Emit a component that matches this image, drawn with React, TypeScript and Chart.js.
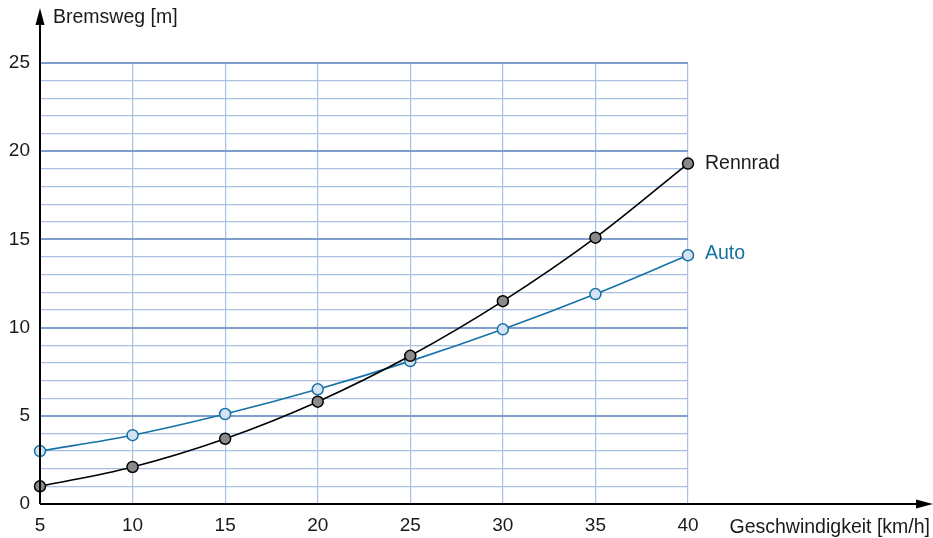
import React, { useEffect, useRef } from "react";
import { Chart, registerables } from "chart.js";

Chart.register(...registerables);

const speeds = [5, 10, 15, 20, 25, 30, 35, 40];
const rennrad = [1.0, 2.1, 3.7, 5.8, 8.4, 11.5, 15.1, 19.3];
const auto = [3.0, 3.9, 5.1, 6.5, 8.1, 9.9, 11.9, 14.1];
const seriesNames = ["Rennrad", "Auto"];
const yTitle = "Bremsweg [m]";
const xTitle = "Geschwindigkeit [km/h]";

const FONT = "'Liberation Sans', Arial, sans-serif";
const FS = 19;
const FT = 19.5;
const BLUE = "#1672a6";

const overlay = {
  id: "overlay",
  afterDraw(chart: any) {
    const { ctx, chartArea, scales } = chart;
    const x0 = chartArea.left;
    const y0 = chartArea.bottom;
    ctx.save();
    ctx.strokeStyle = "#000";
    ctx.fillStyle = "#000";
    ctx.lineWidth = 2;
    // y axis
    ctx.beginPath();
    ctx.moveTo(x0, y0);
    ctx.lineTo(x0, 20);
    ctx.stroke();
    ctx.beginPath();
    ctx.moveTo(x0, 8);
    ctx.lineTo(x0 - 4.5, 25);
    ctx.lineTo(x0 + 4.5, 25);
    ctx.closePath();
    ctx.fill();
    // x axis
    ctx.beginPath();
    ctx.moveTo(x0, y0);
    ctx.lineTo(920, y0);
    ctx.stroke();
    ctx.beginPath();
    ctx.moveTo(933, y0);
    ctx.lineTo(916, y0 - 4.5);
    ctx.lineTo(916, y0 + 4.5);
    ctx.closePath();
    ctx.fill();
    // titles
    ctx.font = `${FT}px ${FONT}`;
    ctx.fillStyle = "#1a1a1a";
    ctx.textBaseline = "middle";
    ctx.textAlign = "left";
    ctx.fillText(yTitle, 53, 18);
    ctx.textAlign = "right";
    ctx.fillText(xTitle, 930, 528);
    // series labels
    ctx.textAlign = "left";
    const lx = scales.x.getPixelForValue(speeds[speeds.length - 1]) + 17;
    ctx.fillStyle = "#1a1a1a";
    ctx.fillText(seriesNames[0], lx, scales.y.getPixelForValue(rennrad[rennrad.length - 1]));
    ctx.fillStyle = BLUE;
    ctx.fillText(seriesNames[1], lx, scales.y.getPixelForValue(auto[auto.length - 1]) - 2);
    ctx.restore();
  },
};

export default function App() {
  const ref = useRef<HTMLCanvasElement>(null);
  useEffect(() => {
    if (!ref.current) return;
    const chart = new Chart(ref.current, {
      type: "line",
      data: {
        datasets: [
          {
            label: seriesNames[0],
            data: speeds.map((s, i) => ({ x: s, y: rennrad[i] })),
            borderColor: "#000",
            borderWidth: 1.6,
            pointBackgroundColor: "#8a8a8a",
            pointBorderColor: "#000",
            pointBorderWidth: 1.5,
            pointRadius: 5.5,
            tension: 0.35,
            clip: false as any,
          },
          {
            label: seriesNames[1],
            data: speeds.map((s, i) => ({ x: s, y: auto[i] })),
            borderColor: BLUE,
            borderWidth: 1.6,
            pointBackgroundColor: "#d4e2f2",
            pointBorderColor: BLUE,
            pointBorderWidth: 1.5,
            pointRadius: 5.5,
            tension: 0.35,
            clip: false as any,
          },
        ],
      },
      options: {
        animation: false,
        responsive: false,
        layout: { padding: { top: 63, right: 245, left: 0, bottom: 0 } },
        plugins: { legend: { display: false }, tooltip: { enabled: false } },
        scales: {
          x: {
            type: "linear",
            min: 5,
            max: 40,
            afterFit: (s: any) => {
              s.height = 34;
            },
            border: { display: false },
            grid: { color: "#a9c0e2", lineWidth: 1.2, drawTicks: false },
            ticks: {
              stepSize: 5,
              padding: 10,
              color: "#1a1a1a",
              font: { family: FONT, size: FS },
            },
          },
          y: {
            type: "linear",
            min: 0,
            max: 25,
            afterFit: (s: any) => {
              s.width = 40;
            },
            border: { display: false },
            grid: {
              drawTicks: false,
              color: (c: any) => (c.tick && c.tick.value % 5 === 0 ? "#809ecb" : "#a9c0e2"),
              lineWidth: (c: any) => (c.tick && c.tick.value % 5 === 0 ? 2 : 1.2),
            },
            ticks: {
              stepSize: 1,
              maxTicksLimit: 40,
              autoSkip: false,
              padding: 10,
              color: "#1a1a1a",
              font: { family: FONT, size: FS },
              callback: (v: any) => (Number(v) % 5 === 0 ? String(v) : ""),
            },
          },
        },
      },
      plugins: [overlay],
    });
    return () => chart.destroy();
  }, []);
  return (
    <div style={{ position: "fixed", left: 0, top: 0, width: 933, height: 538, background: "#fff" }}>
      <canvas ref={ref} width={933} height={538} style={{ width: 933, height: 538 }} />
    </div>
  );
}
